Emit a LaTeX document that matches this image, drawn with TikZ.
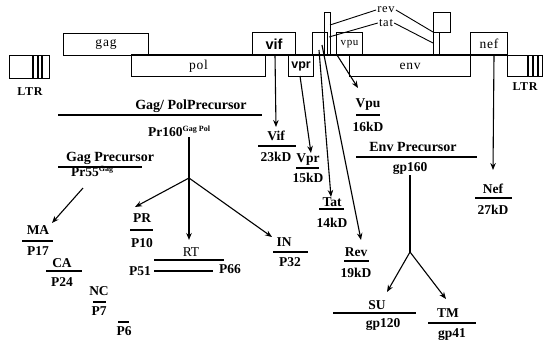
\documentclass[tikz,border=0pt]{standalone}
\usepackage{fontspec}
\setmainfont{Liberation Serif}
\newfontfamily\sansbold{Liberation Sans}
\newfontfamily\widefont[LetterSpace=6]{Liberation Serif}
\usetikzlibrary{arrows.meta}
\tikzset{
  gene/.style={draw, line width=1.1pt, inner sep=0pt, anchor=north west,
    font=\widefont\fontsize{13.5}{14}\selectfont},
  genebold/.style={font=\sansbold\bfseries\fontsize{14.5}{15}\selectfont},
  boxline/.style={line width=1.1pt},
  thinline/.style={line width=0.9pt},
  lbl/.style={inner sep=1pt, font=\bfseries\fontsize{13.5}{14}\selectfont},
  hdr/.style={inner sep=1pt, font=\bfseries\fontsize{14}{15}\selectfont},
  toplbl/.style={inner sep=1pt, font=\widefont\fontsize{12.5}{13}\selectfont},
  uline/.style={line width=2.3pt},
  conn/.style={line width=1.1pt},
  arr/.style={line width=1.1pt, -{Stealth[length=7pt,width=5.5pt]}}
}
\begin{document}
\begin{tikzpicture}[x=1pt,y=-1pt]
\useasboundingbox (0,0) rectangle (545,341);

% ---------- genome map ----------
\node[gene, minimum width=85, minimum height=22] (gag) at (63,33) {gag};
\node[gene, minimum width=134, minimum height=21] (pol) at (131,55) {pol};
\node[gene, genebold, minimum width=43, minimum height=23] (vif) at (252,32) {vif};
\node[gene, genebold, font=\sansbold\bfseries\fontsize{12.5}{13}\selectfont, minimum width=25, minimum height=21] (vpr) at (288,55) {vpr};
\node[gene, minimum width=15, minimum height=23] (tatbox) at (312,32) {};
\node[gene, minimum width=6, minimum height=43] (tatbar) at (324,12) {};
\node[gene, minimum width=121, minimum height=21] (env) at (349,55) {env};
\node[gene, font=\widefont\fontsize{11}{12}\selectfont, minimum width=26, minimum height=23] (vpu) at (336,32) {vpu};
\node[gene, minimum width=17, minimum height=20] (revbox) at (433,12) {};
\node[gene, minimum width=6, minimum height=23] (revbar) at (433,32) {};
\node[gene, minimum width=37, minimum height=23] (nef) at (470,32) {nef};
\node[gene, minimum width=35, minimum height=21] (ltrR) at (507,55) {};
\node[gene, minimum width=40, minimum height=23] (ltrL) at (9,55) {};

% baseline
\draw[boxline] (pol.north west) -- (ltrR.north west);

% LTR stripes
\foreach \x in {33,38,42} \draw[boxline] (\x,55) -- (\x,78);
\foreach \x in {528,533,538} \draw[boxline] (\x,55) -- (\x,76);

\node[toplbl, font=\widefont\bfseries\fontsize{12}{13}\selectfont] (ltrLlbl) at (30,92) {LTR};
\node[toplbl, font=\widefont\bfseries\fontsize{12}{13}\selectfont] (ltrRlbl) at (525,87) {LTR};

% rev / tat labels
\node[toplbl] (revl) at (386,10) {rev};
\node[toplbl] (tatl) at (386,23) {tat};
\coordinate (revA) at (330,25);
\coordinate (tatA) at (329,37);
\coordinate (revB) at (433,32);
\coordinate (tatB) at (433,43);
\draw[thinline] (revA) -- (revl.west);
\draw[thinline] (tatA) -- (tatl.west);
\draw[thinline] (revl.east) -- (revB);
\draw[thinline] (tatl.east) -- (tatB);

% ---------- Gag/Pol precursor ----------
\node[hdr] (gagpol) at (191,106) {Gag/ PolPrecursor};
\draw[uline] (58,115) -- (262,115);
\node[lbl, anchor=base west] (pr160) at (147,136) {Pr160\raisebox{4.5pt}{\fontsize{8}{9}\selectfont Gag Pol}};
\coordinate (br1) at (189,178);
\draw[conn] (pr160.south -| br1) -- (br1);

% ---------- Gag precursor ----------
\node[hdr] (gagprec) at (110,158) {Gag Precursor};
\draw[uline] (58,167) -- (142,167);
\node[lbl, anchor=base west] (pr55) at (70,176) {Pr55\raisebox{4.5pt}{\fontsize{8}{9}\selectfont Gag}};

% MA CA NC P6
\node[lbl] (MA) at (38,230) {MA};
\draw[uline] (22,241) -- (53,241);
\node[lbl] (P17) at (38,251) {P17};
\node[lbl] (CA) at (62,263) {CA};
\draw[uline] (46,271) -- (82,271);
\node[lbl] (P24) at (62,282) {P24};
\node[lbl] (NC) at (99,291) {NC};
\draw[uline] (93,302) -- (106,302);
\node[lbl] (P7) at (99,311) {P7};
\draw[uline] (118,322) -- (129,322);
\node[lbl] (P6) at (124,331) {P6};

\coordinate (gagsrc) at (83,188);
\coordinate (maT) at (52,223);
\draw[arr] (gagsrc) -- (maT);

% PR RT IN
\node[lbl] (PR) at (142,218) {PR};
\draw[uline] (130,230) -- (153,230);
\node[lbl] (P10) at (142,243) {P10};
\node[lbl, font=\fontsize{13.5}{14}\selectfont] (RT) at (191,252) {RT};
\draw[uline] (154,260) -- (224,260);
\draw[uline] (154,271) -- (213,271);
\node[lbl] (P51) at (140,271) {P51};
\node[lbl] (P66) at (230,269) {P66};
\node[lbl] (IN) at (284,242) {IN};
\draw[uline] (273,252) -- (308,252);
\node[lbl] (P32) at (290,262) {P32};

\coordinate (prT) at (135,207);
\coordinate (rtT) at (189,240);
\coordinate (inT) at (272,237);
\draw[arr] (br1) -- (prT);
\draw[arr] (br1) -- (rtT);
\draw[arr] (br1) -- (inT);

% ---------- accessory proteins ----------
\node[lbl] (Vif) at (276,136) {Vif};
\draw[uline] (258,146) -- (296,146);
\node[lbl] (kd23) at (276,157) {23kD};

\node[lbl] (Vpr) at (308,160) {Vpr};
\draw[uline] (296,168) -- (319,168);
\node[lbl] (kd15) at (308,178) {15kD};

\node[lbl] (Tat) at (332,202) {Tat};
\draw[uline] (319,209) -- (344,209);
\node[lbl] (kd14) at (332,223) {14kD};

\node[lbl] (Vpu) at (368,105) {Vpu};
\draw[uline] (356,115) -- (380,115);
\node[lbl] (kd16) at (368,127) {16kD};

\node[lbl] (Rev) at (356,252) {Rev};
\draw[uline] (344,261) -- (369,261);
\node[lbl] (kd19) at (356,273) {19kD};

\node[lbl] (Nef) at (493,189) {Nef};
\draw[uline] (475,198) -- (512,198);
\node[lbl] (kd27) at (493,210) {27kD};

\coordinate (vifS) at (275,55);
\coordinate (vifT) at (276,127);
\coordinate (vprS) at (300,76);
\coordinate (vprT) at (311,153);
\coordinate (tatS) at (319,50);
\coordinate (tatT) at (331,197);
\coordinate (revS) at (322,45);
\coordinate (revT) at (361,240);
\coordinate (vpuS) at (337,55);
\coordinate (vpuT) at (358,88);
\coordinate (nefS) at (494,55);
\coordinate (nefT) at (493,170);
\draw[arr] (vifS) -- (vifT);
\draw[arr] (vprS) -- (vprT);
\draw[arr] (tatS) -- (tatT);
\draw[arr] (revS) -- (revT);
\draw[arr] (vpuS) -- (vpuT);
\draw[arr] (nefS) -- (nefT);

% ---------- Env precursor ----------
\node[hdr] (envprec) at (413,147) {Env Precursor};
\draw[uline] (356,157) -- (477,157);
\node[lbl] (gp160) at (410,168) {gp160};
\coordinate (br2) at (410,252);
\draw[conn] (gp160.south -| br2) -- (br2);

\node[lbl] (SU) at (377,305) {SU};
\draw[uline] (333,313) -- (416,313);
\node[lbl] (gp120) at (383,324) {gp120};
\node[lbl] (TM) at (448,313) {TM};
\draw[uline] (428,323) -- (476,323);
\node[lbl] (gp41) at (452,335) {gp41};

\coordinate (suT) at (387,292);
\coordinate (tmT) at (446,299);
\draw[arr] (br2) -- (suT);
\draw[arr] (br2) -- (tmT);
\end{tikzpicture}
\end{document}
